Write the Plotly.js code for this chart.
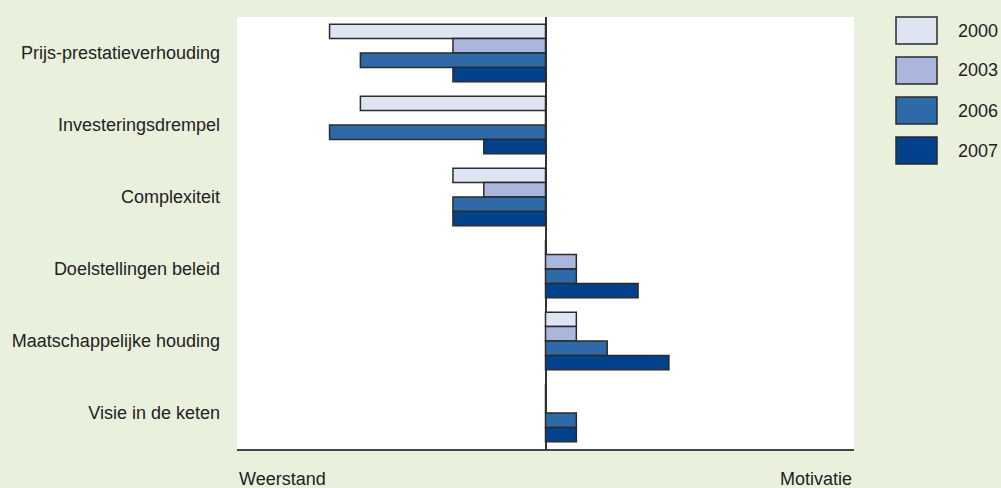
<!DOCTYPE html>
<html>
<head>
<meta charset="utf-8">
<script src="https://cdn.plot.ly/plotly-3.0.1.min.js"></script>
<style>
  html, body { margin: 0; padding: 0; background: #e9f1dc; }
  #chart { width: 1001px; height: 488px; }
</style>
</head>
<body>
<div id="chart"></div>
<script>
// Factoren: weerstand (negatief) versus motivatie (positief)
const categories = [
  "Prijs-prestatieverhouding",
  "Investeringsdrempel",
  "Complexiteit",
  "Doelstellingen beleid",
  "Maatschappelijke houding",
  "Visie in de keten"
];
const years = ["2000", "2003", "2006", "2007"];
const values2000 = [-7, -6, -3, 0, 1, 0];
const values2003 = [-3, 0, -2, 1, 1, 0];
const values2006 = [-6, -7, -3, 1, 2, 1];
const values2007 = [-3, -2, -3, 3, 4, 1];
const seriesValues = [values2000, values2003, values2006, values2007];
const colors = ["#dfe4f2", "#abb6dd", "#2e69a8", "#02428c"];

const FONT = "'Liberation Sans', Arial, Helvetica, sans-serif";
const FS = 18;
const TEXT = "#222222";
const BG = "#e9f1dc";

const traces = years.map((yr, i) => ({
  type: "bar",
  orientation: "h",
  name: yr,
  y: categories,
  x: seriesValues[i],
  marker: { color: colors[i], line: { color: "#2b2b2b", width: 1.5 } },
  showlegend: false,
  hoverinfo: "x+name"
}));

// Plot area in pixels (used for placing the custom legend)
const W = 1001, H = 488;
const M = { l: 237, r: 147, t: 17, b: 39 };
const pw = W - M.l - M.r, ph = H - M.t - M.b;
const px = x => (x - M.l) / pw;
const py = y => (H - M.b - y) / ph;

const shapes = [];
const annotations = [];
years.forEach((yr, i) => {
  const top = 17 + i * 40;
  shapes.push({
    type: "rect", xref: "paper", yref: "paper",
    x0: px(896), x1: px(937), y0: py(top + 27), y1: py(top),
    fillcolor: colors[i], line: { color: "#2b2b2b", width: 1.5 }
  });
  annotations.push({
    xref: "paper", yref: "paper", x: px(956), y: py(top + 13.5),
    xanchor: "left", yanchor: "middle", showarrow: false,
    text: yr, font: { family: FONT, size: FS, color: TEXT }
  });
});
annotations.push({
  xref: "paper", yref: "paper", x: 0, y: py(479),
  xanchor: "left", yanchor: "middle", showarrow: false,
  text: "Weerstand", font: { family: FONT, size: FS, color: TEXT }
});
annotations.push({
  xref: "paper", yref: "paper", x: 1, y: py(479),
  xanchor: "right", yanchor: "middle", showarrow: false,
  text: "Motivatie", font: { family: FONT, size: FS, color: TEXT }
});

const layout = {
  width: W, height: H,
  margin: M,
  paper_bgcolor: BG,
  plot_bgcolor: "#ffffff",
  barmode: "group",
  bargap: 0.2,
  bargroupgap: 0,
  font: { family: FONT, size: FS, color: TEXT },
  xaxis: {
    range: [-10, 10],
    showgrid: false,
    showticklabels: false,
    ticks: "",
    zeroline: true,
    zerolinecolor: "#333333",
    zerolinewidth: 2,
    showline: true,
    linecolor: "#444444",
    linewidth: 2,
    fixedrange: true
  },
  yaxis: {
    type: "category",
    autorange: "reversed",
    showgrid: false,
    zeroline: false,
    showline: false,
    ticks: "",
    ticklabelstandoff: 16,
    tickfont: { family: FONT, size: FS, color: TEXT },
    fixedrange: true
  },
  shapes: shapes,
  annotations: annotations
};

Plotly.newPlot("chart", traces, layout, { displayModeBar: false, staticPlot: true });
</script>
</body>
</html>
